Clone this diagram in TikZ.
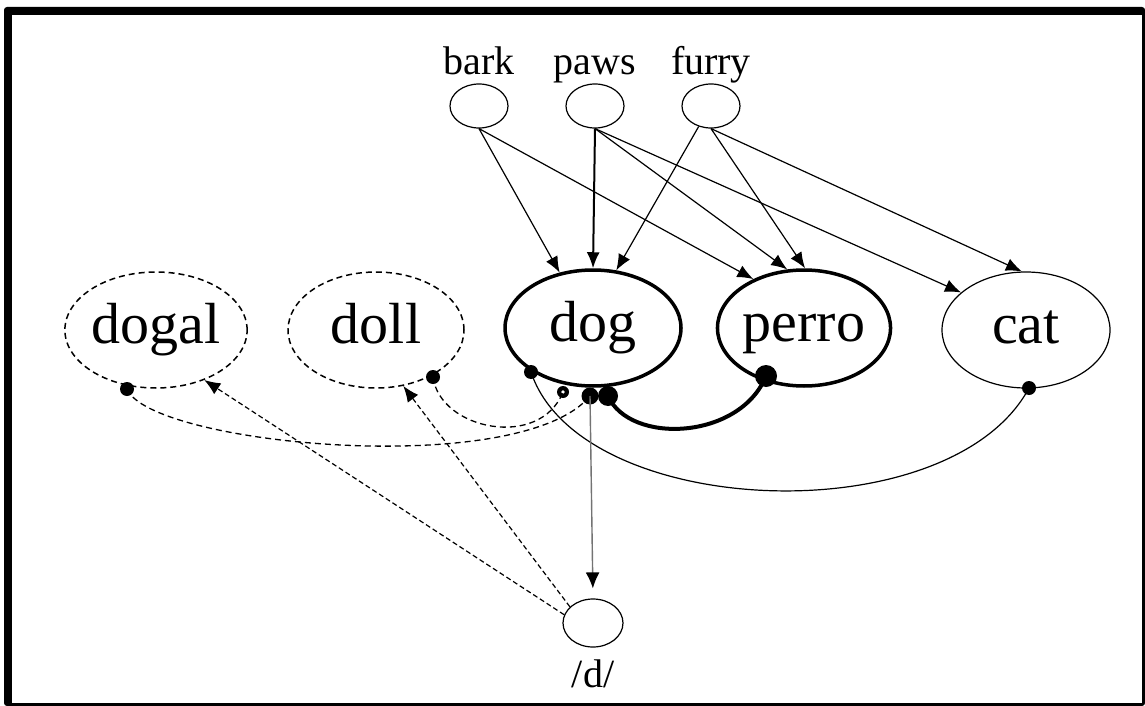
\documentclass[tikz,border=0pt]{standalone}
\usepackage{fontspec}
\setmainfont{Liberation Serif}
\usetikzlibrary{shapes.geometric,arrows.meta}
\begin{document}
\begin{tikzpicture}[x=1pt,y=-1pt,
  feat/.style={ellipse, draw, line width=1.2pt, minimum width=58pt, minimum height=44pt, inner sep=0pt},
  word/.style={ellipse, minimum width=176pt, minimum height=116pt, inner sep=0pt,
     font=\fontsize{58}{62}\selectfont, text height=40pt, text depth=13pt},
  activeword/.style={word, draw, line width=3.5pt},
  plainword/.style={word, draw, line width=1.2pt},
  candword/.style={word, draw, line width=1.5pt, dash pattern=on 6pt off 4pt},
  lab/.style={font=\fontsize{40}{44}\selectfont, inner sep=0pt, anchor=base},
  dot/.style={circle, fill, inner sep=0pt, minimum size=#1},
  dot/.default=12pt,
  arr/.style={-{Latex[length=16pt,width=13pt]}, line width=1.2pt},
  darr/.style={arr, dash pattern=on 5pt off 3pt},
  dline/.style={line width=1.3pt, dash pattern=on 6pt off 4pt}
]
\useasboundingbox (0,0) rectangle (1145,706);
\fill[black, rounded corners=3pt] (4,7) rectangle (1145,706);
\fill[white] (12,15) rectangle (1142,703);

% feature nodes
\node[feat] (bark) at (479,106) {};
\node[feat] (paws) at (595,106) {};
\node[feat] (furry) at (711,106) {};
\node[lab] (barkl) at (479,75) {bark};
\node[lab] (pawsl) at (595,75) {paws};
\node[lab] (furryl) at (711,75) {furry};

% word nodes
\node[candword] (dogal) at (156,330) {dogal};
\node[candword] (doll) at (376,330) {doll};
\node[activeword] (dog) at (593,328) {dog};
\node[activeword, minimum width=154pt] (perro) at (804,328) {perro};
\node[plainword, minimum width=168pt] (cat) at (1026,330) {cat};

% phoneme node
\node[feat, minimum width=60pt, minimum height=48pt] (dd) at (593,623) {};
\node[lab, font=\fontsize{40}{44}\selectfont] (ddl) at (593,687) {/d/};

% feature -> word arrows
\draw[arr] (bark.south) -- (dog.121);
\draw[arr] (bark.south) -- (perro.136);
\draw[arr, line width=2pt] (paws.south) -- (dog.90);
\draw[arr] (paws.south) -- (perro.106);
\draw[arr] (paws.south) -- (cat.150);
\draw[arr] (furry.239) -- (dog.68);
\draw[arr] (furry.south) -- (perro.89);
\draw[arr] (furry.south) -- (cat.94);

% dots
\node[dot=14pt] (dg1) at (531,372) {};
\node[dot=12pt] (dg2) at (563,392) {};
\fill[white] (dg2) circle (1.8pt);
\node[dot=17pt] (dg3) at (590,396) {};
\node[dot=20pt] (dg4) at (608,396) {};
\node[dot=22pt] (pd) at (766,376) {};
\node[dot=14pt] (cd) at (1029,388) {};
\node[dot=14pt] (gd) at (127,389) {};
\node[dot=14pt] (ld) at (433,377) {};

% lateral connections
\draw[line width=1.2pt] (dg1.center) .. controls (580,520) and (950,535) .. (cd.center);
\draw[line width=4pt] (dg4.center) .. controls (630,445) and (740,440) .. (pd.center);
\draw[dline] (gd.center) .. controls (150,445) and (520,480) .. (dg3.center);
\draw[dline] (ld.center) .. controls (440,430) and (540,450) .. (dg2.center);

% dog -> /d/
\draw[draw=black!55, line width=1.4pt, -{Latex[length=16pt,width=14pt,color=black]}, shorten >=10pt] (dg3.center) -- (dd.north);

% /d/ -> candidates
\draw[darr] (dd.164) -- (dogal.-46);
\draw[darr] (dd.145) -- (doll.-64);
\end{tikzpicture}
\end{document}
